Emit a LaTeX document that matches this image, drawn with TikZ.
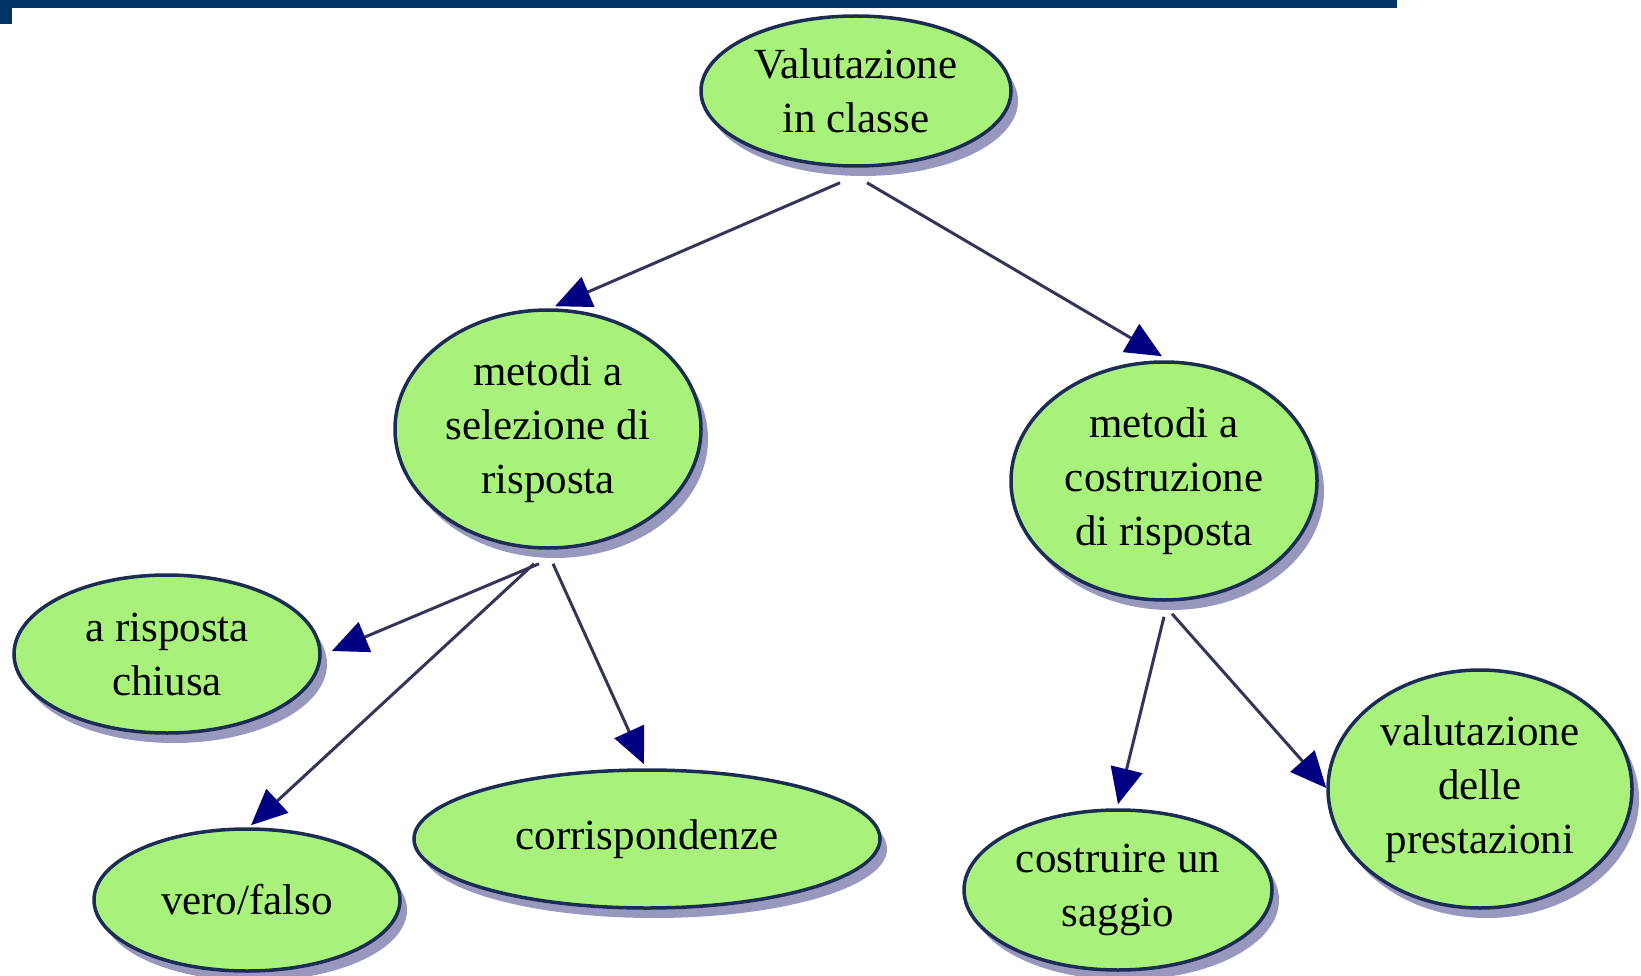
\documentclass[tikz,border=0pt]{standalone}
\usepackage{fontspec}
\setmainfont{Liberation Serif}
\usetikzlibrary{shapes.geometric,arrows.meta,shadows}
\definecolor{barblue}{HTML}{003366}
\definecolor{nodegreen}{HTML}{A8F27C}
\definecolor{nodeline}{HTML}{1C2D55}
\definecolor{linegray}{HTML}{35355A}
\definecolor{tipblue}{HTML}{000080}
\definecolor{shadowblue}{HTML}{7676A8}
\begin{document}
\begin{tikzpicture}[x=1pt,y=-1pt,
				concetto/.style = {ellipse, draw=nodeline, line width=3.5pt,
					fill=nodegreen, align=center, inner sep=0pt,
					font=\fontsize{43}{54}\selectfont,
					drop shadow={fill=shadowblue, opacity=0.75,
						shadow xshift=7pt, shadow yshift=-10pt}},
				freccia/.style = {draw=linegray, line width=3pt,
					-{Triangle[length=36pt,width=32pt,color=tipblue]}}]
				\useasboundingbox (0,0) rectangle (1641,976);
				% barra in alto
				\fill[barblue] (0,0) rectangle (1397,8);
				\fill[barblue] (0,0) rectangle (12,24);
				% concetti
				\node[concetto, minimum width=310pt, minimum height=150pt] (valutazione) at (856,91) {Valutazione\\in classe};
				\node[concetto, minimum width=306pt, minimum height=238pt] (selezione) at (548,429) {metodi a\\selezione di\\risposta};
				\node[concetto, minimum width=306pt, minimum height=238pt] (costruzione) at (1164,481) {metodi a\\costruzione\\di risposta};
				\node[concetto, minimum width=306pt, minimum height=158pt] (chiusa) at (167,654) {a risposta\\chiusa};
				\node[concetto, minimum width=306pt, minimum height=142pt] (verofalso) at (247,900) {vero/falso};
				\node[concetto, minimum width=466pt, minimum height=138pt] (corrisp) at (647,839) {corrispondenze};
				\node[concetto, minimum width=308pt, minimum height=160pt] (saggio) at (1118,890) {costruire un\\saggio};
				\node[concetto, minimum width=304pt, minimum height=238pt] (prestazioni) at (1480,789) {valutazione\\delle\\prestazioni};
				% frecce
				\draw[freccia] ([xshift=-16pt,yshift=-15pt]valutazione.south) -- ([xshift=7pt,yshift=2pt]selezione.north);
				\draw[freccia] ([xshift=11pt,yshift=-15pt]valutazione.south) -- ([xshift=-2pt,yshift=4pt]costruzione.north);
				\draw[freccia] ([xshift=-9pt,yshift=-14pt]selezione.south) -- ([xshift=10pt,yshift=3pt]chiusa.east);
				\draw[freccia] ([xshift=-14pt,yshift=-14pt]selezione.south) -- ([xshift=4pt,yshift=2pt]verofalso.north);
				\draw[freccia] ([xshift=5pt,yshift=-14pt]selezione.south) -- ([xshift=-3pt,yshift=4pt]corrisp.north);
				\draw[freccia] ([yshift=-15pt]costruzione.south) -- ([yshift=4pt]saggio.north);
				\draw[freccia] ([xshift=8pt,yshift=-12pt]costruzione.south) -- ([yshift=1pt]prestazioni.west);
\end{tikzpicture}
\end{document}
